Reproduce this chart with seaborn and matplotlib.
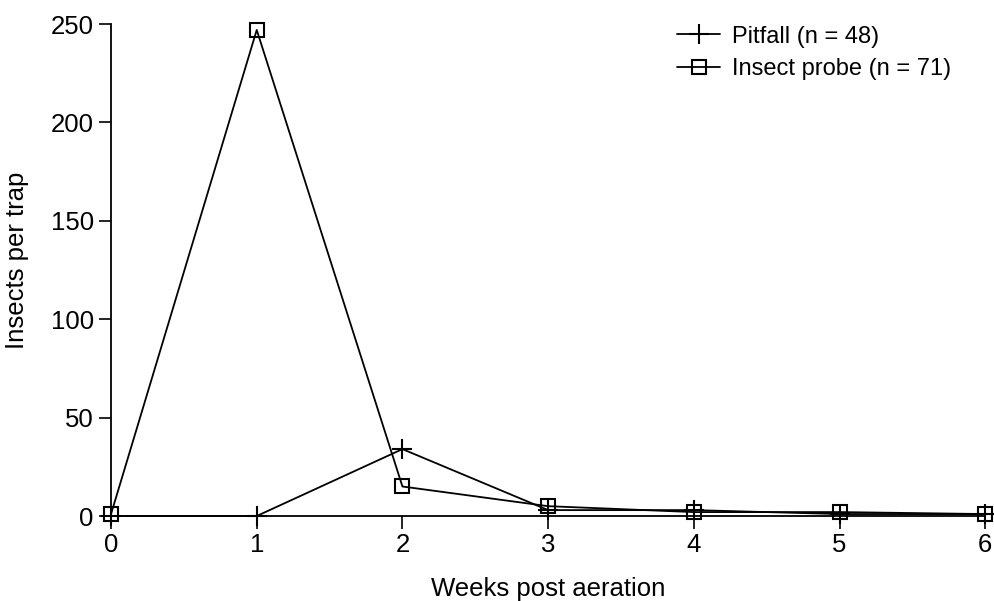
import seaborn as sns
import pandas as pd
import matplotlib.pyplot as plt

sns.set_style("ticks")
plt.rcParams['font.family'] = ['Liberation Sans', 'DejaVu Sans']
plt.rcParams['text.color'] = 'black'
plt.rcParams['axes.labelcolor'] = 'black'

weeks = [0, 1, 2, 3, 4, 5, 6]
pitfall = [0, 0, 34, 3, 3, 1, 1]
probe = [1, 247, 15, 5, 2, 2, 1]

df = pd.DataFrame({'week': weeks, 'pitfall': pitfall, 'probe': probe})

fig = plt.figure(figsize=(9.94, 6.01), dpi=100)
ax = fig.add_axes([0.1117, 0.1414, 0.8795, 0.8186])

sns.lineplot(data=df, x='week', y='pitfall', marker='+', color='black',
             linewidth=1.3, markersize=14, markeredgewidth=1.5,
             markeredgecolor='black', label='Pitfall (n = 48)', ax=ax)
sns.lineplot(data=df, x='week', y='probe', marker='s', color='black',
             linewidth=1.3, markersize=10, markerfacecolor='none',
             markeredgecolor='black', markeredgewidth=1.5,
             label='Insect probe (n = 71)', ax=ax)

ax.set_xlim(0, 6)
ax.set_ylim(0, 250)
ax.set_xticks(weeks)
ax.set_yticks([0, 50, 100, 150, 200, 250])
ax.tick_params(labelsize=18.5, length=9, width=1.2, colors='black',
               labelcolor='black')
ax.set_xlabel('Weeks post aeration', fontsize=18.5, labelpad=14)
ax.set_ylabel('Insects per trap', fontsize=18.5)
ax.yaxis.set_label_coords(-0.094, 0.52)
for s in ['left', 'bottom']:
    ax.spines[s].set_linewidth(1.3)
    ax.spines[s].set_color('black')
sns.despine(ax=ax)
for line in ax.lines:
    line.set_clip_on(False)

leg = ax.legend(frameon=False, fontsize=17, loc='upper right',
                bbox_to_anchor=(0.985, 1.04), handlelength=1.8,
                handletextpad=0.5, labelspacing=0.45)
for t in leg.get_texts():
    t.set_color('black')

fig.savefig('out.png', dpi=100)
